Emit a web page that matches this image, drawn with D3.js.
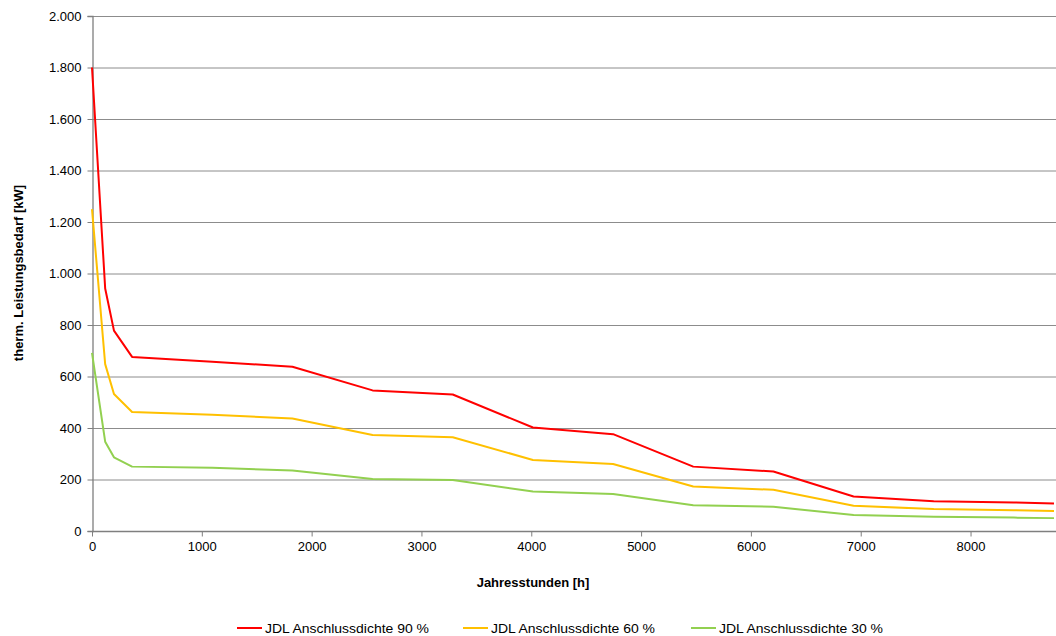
<!DOCTYPE html>
<html><head><meta charset="utf-8">
<script src="https://cdn.jsdelivr.net/npm/d3@7"></script>
<style>body{margin:0;background:#fff}svg{display:block;font-family:"Liberation Sans",Arial,sans-serif}</style>
</head><body>
<svg id="c" width="1056" height="636"></svg>
<script>
const hours = [0, 120, 200, 365, 1095, 1825, 2555, 3285, 4015, 4745, 5475, 6205, 6935, 7665, 8395, 8760];
const jdl90 = [1800, 942, 778, 676, 657, 638, 546, 530, 402, 376, 250, 231, 134, 116, 111, 107];
const jdl60 = [1250, 648, 532, 462, 451, 437, 373, 364, 276, 260, 173, 160, 98, 85, 81, 78];
const jdl30 = [692, 347, 286, 250, 246, 235, 202, 198, 153, 144, 100, 94, 62, 55, 52, 50];
const seriesNames = ["JDL Anschlussdichte 90 %", "JDL Anschlussdichte 60 %", "JDL Anschlussdichte 30 %"];
const seriesColors = ["#ff0000", "#ffc000", "#92d050"];
const yTicks = [0, 200, 400, 600, 800, 1000, 1200, 1400, 1600, 1800, 2000];
const xTicks = [0, 1000, 2000, 3000, 4000, 5000, 6000, 7000, 8000];
const xTitle = "Jahresstunden [h]";
const yTitle = "therm. Leistungsbedarf [kW]";

const svg = d3.select("#c");
const x = d3.scaleLinear().domain([0, 8760]).range([92, 1054]);
const y = d3.scaleLinear().domain([0, 2000]).range([531, 16]);
const de = d3.formatLocale({decimal: ",", thousands: ".", grouping: [3], currency: ["", "€"]});
const fy = de.format(",d");

// gridlines
svg.append("g").selectAll("line").data(yTicks.filter(d => d > 0)).join("line")
  .attr("x1", x(0)).attr("x2", 1056).attr("y1", d => y(d) + 0.5).attr("y2", d => y(d) + 0.5)
  .attr("stroke", "#8c8c8c").attr("stroke-width", 1);

// axes
const ya = svg.append("g").attr("transform", `translate(${x(0) + 0.5},0)`)
  .call(d3.axisLeft(y).tickValues(yTicks).tickFormat(fy).tickSize(5).tickPadding(6));
const xa = svg.append("g").attr("transform", `translate(0,${y(0) + 0.5})`)
  .call(d3.axisBottom(x).tickValues(xTicks).tickFormat(d3.format("d")).tickSize(5).tickPadding(5));
xa.select(".domain").attr("d", `M${x(0)},0H1056`);
[ya, xa].forEach(a => {
  a.select(".domain").attr("stroke", "#7f7f7f").attr("stroke-width", 1.3);
  a.selectAll(".tick line").attr("stroke", "#7f7f7f");
  a.selectAll("text").attr("font-size", 13).attr("fill", "#000").attr("font-family", "Liberation Sans, Arial, sans-serif");
});

// lines
const data = [jdl90, jdl60, jdl30];
const line = d3.line().x((d, i) => x(hours[i])).y(d => y(d));
svg.append("g").selectAll("path").data(data).join("path")
  .attr("d", line).attr("fill", "none")
  .attr("stroke", (d, i) => seriesColors[i]).attr("stroke-width", 2).attr("stroke-linejoin", "round");

// titles
svg.append("text").attr("x", 533).attr("y", 587).attr("text-anchor", "middle")
  .attr("font-size", 13).attr("font-weight", "bold").text(xTitle);
svg.append("text").attr("transform", "translate(23,273) rotate(-90)").attr("text-anchor", "middle")
  .attr("font-size", 13).attr("font-weight", "bold").text(yTitle);

// legend
const legX = [237, 463, 691];
const lg = svg.append("g").selectAll("g").data(seriesNames).join("g")
  .attr("transform", (d, i) => `translate(${legX[i]},628)`);
lg.append("line").attr("x1", 0).attr("x2", 25).attr("y1", 0).attr("y2", 0)
  .attr("stroke", (d, i) => seriesColors[i]).attr("stroke-width", 2);
lg.append("text").attr("x", 28).attr("y", 5).attr("font-size", 13.5)
  .attr("textLength", 164).attr("lengthAdjust", "spacingAndGlyphs").text(d => d);
</script>
</body></html>
